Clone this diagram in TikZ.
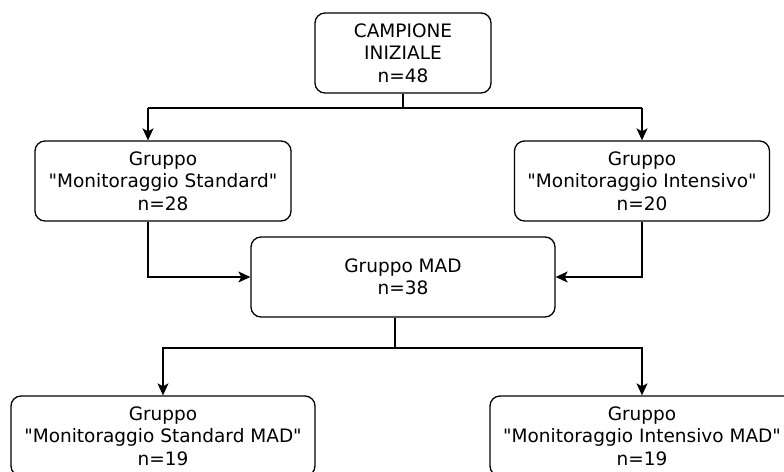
\documentclass[tikz,border=0pt]{standalone}
\usepackage{fontspec}
\setmainfont{DejaVu Sans}[Ligatures=TeXOff]
\usetikzlibrary{arrows.meta, positioning}

\begin{document}
\begin{tikzpicture}[x=1pt, y=-1pt,
    box/.style={draw, line width=1.3pt, rounded corners=10pt, align=center,
        inner sep=0pt, minimum height=80pt,
        font=\fontsize{18.5}{22.5}\selectfont},
    conn/.style={line width=1.3pt},
    arr/.style={conn, -{Stealth[length=12pt, width=11pt, inset=3pt]}}]

\useasboundingbox (0,0) rectangle (784,471);

% --- Boxes ---
\node[box, minimum width=176pt] (campione) at (403,53)
    {CAMPIONE\\INIZIALE\\n=48};

\node[box, minimum width=256pt] (standard) at (163,181)
    {Gruppo\\"Monitoraggio Standard"\\n=28};
\node[box, minimum width=255pt] (intensivo) at (642,181)
    {Gruppo\\"Monitoraggio Intensivo"\\n=20};

\node[box, minimum width=304pt] (mad) at (403,277)
    {Gruppo MAD\\n=38};

\node[box, minimum width=304pt] (standardmad) at (163,436)
    {Gruppo\\"Monitoraggio Standard MAD"\\n=19};
\node[box, minimum width=304pt] (intensivomad) at (642,436)
    {Gruppo\\"Monitoraggio Intensivo MAD"\\n=19};

% --- Split points ---
\coordinate (splitA) at (148,108);
\coordinate (splitB) at (642,108);
\coordinate (splitC) at (395,348);

% --- Connectors ---
\draw[conn] (campione.south) |- (splitA);
\draw[conn] (campione.south) |- (splitB);
\draw[arr] (splitA) -- (splitA |- standard.north);
\draw[arr] (splitB) -- (intensivo.north);

\draw[arr] (standard.south -| splitA) |- (mad.west);
\draw[arr] (intensivo.south) |- (mad.east);

\draw[conn] (mad.south -| splitC) -- (splitC);
\draw[arr] (splitC) -| (standardmad.north);
\draw[arr] (splitC) -| (intensivomad.north);

\end{tikzpicture}
\end{document}
